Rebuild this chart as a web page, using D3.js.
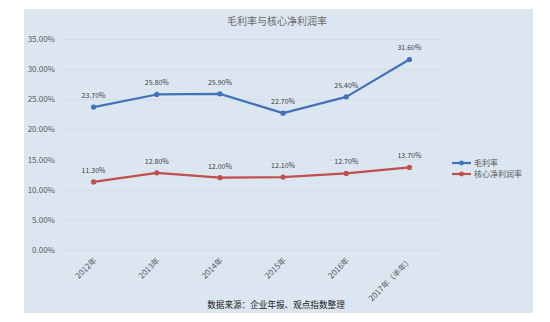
<!DOCTYPE html>
<html>
<head>
<meta charset="utf-8">
<script src="https://cdn.jsdelivr.net/npm/d3@7"></script>
<style>
  html, body { margin: 0; padding: 0; background: #ffffff; }
  svg { display: block; }
</style>
</head>
<body>
<svg id="chart" width="550" height="322"></svg>
<script>
// Years on the x axis
const categories = ["2012年", "2013年", "2014年", "2015年", "2016年", "2017年（半年）"];
// 毛利率 (gross margin), percent
const grossMargin = [23.7, 25.8, 25.9, 22.7, 25.4, 31.6];
// 核心净利润率 (core net margin), percent
const coreNetMargin = [11.3, 12.8, 12.0, 12.1, 12.7, 13.7];
// Y axis ticks, percent
const yTicks = [0, 5, 10, 15, 20, 25, 30, 35];

const series = [
  { name: "毛利率", values: grossMargin, color: "#4272b8" },
  { name: "核心净利润率", values: coreNetMargin, color: "#c0504d" }
];

const svg = d3.select("#chart");
const font = "'Noto Sans CJK SC', 'Noto Sans', sans-serif";

// Chart panel
svg.append("rect")
  .attr("x", 24).attr("y", 9).attr("width", 509).attr("height", 304)
  .attr("fill", "#dce6f1");

const plot = { left: 62, right: 441, top: 39, bottom: 250 };

const x = d3.scalePoint()
  .domain(categories)
  .range([plot.left, plot.right])
  .padding(0.5);

const y = d3.scaleLinear()
  .domain([0, 35])
  .range([plot.bottom, plot.top]);

// Gridlines and y tick labels
const yAxis = d3.axisLeft(y)
  .tickValues(yTicks)
  .tickSize(-(plot.right - plot.left))
  .tickPadding(7)
  .tickFormat(d => d.toFixed(2) + "%");

const yg = svg.append("g")
  .attr("transform", `translate(${plot.left},0)`)
  .call(yAxis);
yg.select(".domain").remove();
yg.selectAll(".tick line").attr("stroke", "#d4dbe3").attr("stroke-width", 1);
yg.selectAll(".tick text")
  .attr("fill", "#595959")
  .style("font-family", font)
  .style("font-size", "8px");

// X axis labels, rotated
const xAxis = d3.axisBottom(x).tickSize(0).tickPadding(0);
const xg = svg.append("g")
  .attr("transform", `translate(0,${plot.bottom})`)
  .call(xAxis);
xg.select(".domain").remove();
xg.selectAll(".tick text")
  .attr("fill", "#595959")
  .style("font-family", font)
  .style("font-size", "8px")
  .attr("text-anchor", "end")
  .attr("dy", "0")
  .attr("transform", "translate(3,11) rotate(-45)");

// Lines, markers and value labels
const line = d3.line()
  .x((d, i) => x(categories[i]))
  .y(d => y(d));

series.forEach(s => {
  svg.append("path")
    .datum(s.values)
    .attr("d", line)
    .attr("fill", "none")
    .attr("stroke", s.color)
    .attr("stroke-width", 2.2)
    .attr("stroke-linejoin", "round");

  svg.selectAll(null)
    .data(s.values)
    .enter().append("circle")
    .attr("cx", (d, i) => x(categories[i]))
    .attr("cy", d => y(d))
    .attr("r", 2.6)
    .attr("fill", s.color);

  svg.selectAll(null)
    .data(s.values)
    .enter().append("text")
    .attr("x", (d, i) => x(categories[i]))
    .attr("y", d => y(d) - 9)
    .attr("text-anchor", "middle")
    .attr("fill", "#404040")
    .style("font-family", font)
    .style("font-size", "7px")
    .text(d => d.toFixed(2) + "%");
});

// Title
svg.append("text")
  .attr("x", 277).attr("y", 25)
  .attr("text-anchor", "middle")
  .attr("fill", "#6a6a6a")
  .style("font-family", font)
  .style("font-size", "10px")
  .text("毛利率与核心净利润率");

// Legend
const legend = svg.append("g").attr("transform", "translate(452,163)");
series.forEach((s, i) => {
  const g = legend.append("g").attr("transform", `translate(0,${i * 11})`);
  g.append("line")
    .attr("x1", 0).attr("x2", 19).attr("y1", 0).attr("y2", 0)
    .attr("stroke", s.color).attr("stroke-width", 2.2);
  g.append("circle").attr("cx", 9.5).attr("cy", 0).attr("r", 2.4).attr("fill", s.color);
  g.append("text")
    .attr("x", 22).attr("y", 3)
    .attr("fill", "#595959")
    .style("font-family", font)
    .style("font-size", "8px")
    .text(s.name);
});

// Source note
svg.append("text")
  .attr("x", 276).attr("y", 308)
  .attr("text-anchor", "middle")
  .attr("fill", "#1a1a1a")
  .style("font-family", font)
  .style("font-size", "8.6px")
  .text("数据来源：企业年报、观点指数整理");
</script>
</body>
</html>
